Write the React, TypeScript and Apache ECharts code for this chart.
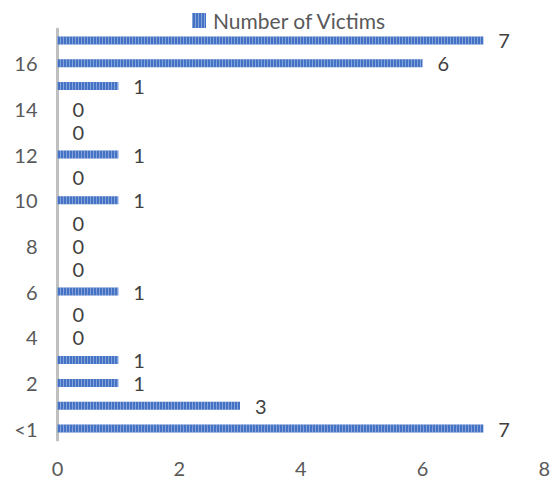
import React, { useEffect, useRef } from "react";
import * as echarts from "echarts";

const categories = ["<1", "1", "2", "3", "4", "5", "6", "7", "8", "9", "10", "11", "12", "13", "14", "15", "16", "17"];
const victims = [7, 3, 1, 1, 0, 0, 1, 0, 0, 0, 1, 0, 1, 0, 0, 1, 6, 7];
const seriesName = "Number of Victims";
const xMin = 0;
const xMax = 8;
const xInterval = 2;

const FONT = "Lato";

export default function App() {
  const ref = useRef<HTMLDivElement>(null);
  useEffect(() => {
    if (!ref.current) return;
    const chart = echarts.init(ref.current, undefined, { renderer: "svg" });
    const decal = {
      symbol: "rect",
      symbolSize: 1,
      color: "rgba(255,255,255,0.35)",
      dashArrayX: [1, 2],
      dashArrayY: [1, 0],
      rotation: 0,
    };
    chart.setOption({
      animation: false,
      textStyle: { fontFamily: FONT },
      legend: {
        data: [seriesName],
        left: 187,
        top: 5,
        itemWidth: 14,
        itemHeight: 15,
        itemGap: 10,
        icon: "rect",
        textStyle: { fontFamily: FONT, fontSize: 21, color: "#595959", padding: [0, 0, 0, 2] },
      },
      grid: { left: 57.5, right: 6.5, top: 29, bottom: 42, containLabel: false },
      xAxis: {
        type: "value",
        min: xMin,
        max: xMax,
        interval: xInterval,
        axisLine: { show: false },
        axisTick: { show: false },
        splitLine: { show: false },
        axisLabel: { fontFamily: FONT, fontSize: 20, color: "#595959", margin: 18 },
      },
      yAxis: {
        type: "category",
        data: categories,
        axisLine: { show: true, lineStyle: { color: "#BFBFBF", width: 3 } },
        axisTick: { show: false },
        axisLabel: { interval: 1, fontFamily: FONT, fontSize: 20, color: "#595959", margin: 20 },
      },
      series: [
        {
          name: seriesName,
          type: "bar",
          data: victims,
          barWidth: 8,
          itemStyle: { color: "#4472C4", decal },
          label: {
            show: true,
            position: "right",
            distance: 15,
            fontFamily: FONT,
            fontSize: 20,
            color: "#404040",
          },
        },
      ],
    });
    return () => chart.dispose();
  }, []);
  return <div ref={ref} style={{ position: "absolute", left: 0, top: 0, width: 553, height: 482 }} />;
}
